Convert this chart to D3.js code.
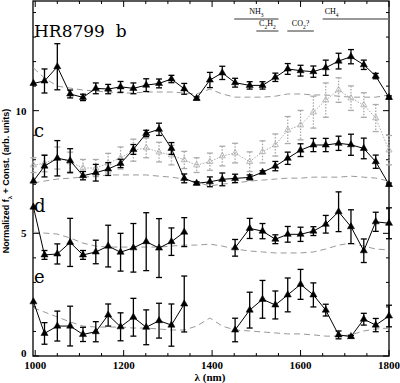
<!DOCTYPE html>
<html lang="en">
<head>
    <meta charset="UTF-8">
    <title>HR8799 bcde spectra</title>
    <style>
        body { margin: 0; background: #ffffff; }
        svg { display: block; background: #ffffff; }
        .tick-label { font-family: "Liberation Serif", serif; font-weight: bold; font-size: 11px; }
    </style>
    <script src="https://d3js.org/d3.v7.min.js"></script>
</head>
<body>
    <svg width="400" height="383"></svg>
    <script>
        // wavelength channels (nm)
        const wavelengths = [996, 1021, 1050, 1079, 1108, 1137, 1165, 1193, 1222, 1251, 1280, 1308, 1337, 1365,
            1395, 1423, 1452, 1485, 1514, 1543, 1571, 1600, 1629, 1657, 1686, 1714, 1743, 1770, 1800];

        // HR8799 b
        const bFlux = [11.11, 11.21, 11.79, 10.68, 10.54, 10.91, 10.88, 10.97, 10.91, 11.04, 11.11, 11.29, 10.89, 10.50,
            11.25, 11.54, 11.14, 11.03, 11.03, 11.36, 11.70, 11.63, 11.59, 11.75, 12.02, 12.20, 11.87, 11.41, 10.54];
        const bErr = [0, 0.49, 0.94, 0.16, 0.13, 0.22, 0.19, 0.22, 0.22, 0.26, 0.18, 0.15, 0.22, 0.06,
            0.31, 0.27, 0.18, 0.15, 0.15, 0.17, 0.22, 0.22, 0.23, 0.31, 0.32, 0.29, 0.19, 0.11, 0.06];
        const bModel = [11.74, 11.33, 11.00, 10.92, 10.84, 10.80, 10.76, 10.72, 10.72, 10.76, 10.76, 10.76, 10.72, 10.68,
            10.88, 10.68, 10.55, 10.55, 10.55, 10.59, 10.68, 10.68, 10.64, 10.64, 10.59, 10.55, 10.55, 10.55, 10.64];

        // HR8799 c
        const cFlux = [7.13, 7.74, 8.06, 7.96, 7.35, 7.47, 7.62, 7.85, 8.42, 9.07, 9.24, 8.46, 7.24, 7.04,
            7.10, 7.20, 7.24, 7.28, 7.49, 7.74, 8.06, 8.39, 8.60, 8.60, 8.67, 8.61, 8.46, 7.92, 6.99];
        const cErr = [0, 0.44, 0.72, 0.49, 0.17, 0.34, 0.26, 0.17, 0.20, 0.13, 0.25, 0.24, 0.18, 0.06,
            0.20, 0.26, 0.17, 0.10, 0.06, 0.19, 0.25, 0.26, 0.27, 0.27, 0.29, 0.43, 0.42, 0.27, 0.06];
        const cFlux2 = [7.78, 7.86, 8.07, 7.91, 7.66, 7.66, 7.86, 8.07, 8.39, 8.48, 8.31, 8.19, 7.99, 7.78,
            7.92, 8.15, 8.27, 7.92, 8.32, 8.60, 9.21, 9.41, 9.94, 10.43, 10.84, 10.51, 10.23, 9.70, 8.39];
        const cErr2 = [0.3, 0.35, 0.45, 0.4, 0.35, 0.35, 0.4, 0.45, 0.45, 0.4, 0.4, 0.4, 0.35, 0.3,
            0.35, 0.4, 0.4, 0.4, 0.45, 0.45, 0.55, 0.6, 0.65, 0.7, 0.5, 0.5, 0.5, 0.55, 0.6];
        const cModel = [7.05, 7.13, 7.21, 7.25, 7.29, 7.33, 7.38, 7.38, 7.38, 7.38, 7.33, 7.29, 7.21, 7.09,
            6.93, 7.01, 7.05, 7.13, 7.17, 7.21, 7.25, 7.25, 7.29, 7.29, 7.29, 7.33, 7.29, 7.25, 7.13];

        // HR8799 d (no data in the 1365-1423 nm band)
        const dFlux = [6.07, 4.12, 4.16, 4.63, 4.12, 4.24, 4.48, 4.23, 4.41, 4.66, 4.40, 4.66, 5.05, null,
            null, null, 4.41, 5.20, 5.09, 4.76, 4.96, 4.96, 5.09, 5.37, 5.88, 5.27, 4.29, 5.47, 5.41];
        const dErr = [0, 0.18, 0.41, 0.98, 0.18, 0.48, 0.85, 0.77, 0.99, 1.18, 1.20, 0.56, 0.59, null,
            null, null, 0.34, 0.41, 0.31, 0.18, 0.32, 0.29, 0.18, 0.36, 0.81, 0.69, 0.48, 0.39, 0.63];
        const dModel = [5.05, 5.01, 4.97, 4.81, 4.60, 4.48, 4.44, 4.44, 4.44, 4.44, 4.44, 4.48, 4.52, 4.52,
            4.56, 4.48, 4.36, 4.28, 4.24, 4.20, 4.20, 4.20, 4.24, 4.36, 4.52, 4.60, 4.48, 4.36, 4.32];

        // HR8799 e
        const eFlux = [2.21, 0.92, 1.22, 1.22, 0.88, 0.99, 1.67, 1.19, 1.58, 1.17, 1.44, 1.26, 2.12, null,
            null, null, 1.06, 1.87, 2.31, 2.08, 2.49, 2.92, 2.49, 1.87, 0.86, 0.79, 1.50, 1.26, 1.63];
        const eErr = [0, 0.44, 0.61, 0.81, 0.29, 0.41, 0.45, 0.57, 0.77, 0.71, 0.71, 0.86, 1.14, null,
            null, null, 0.48, 0.73, 0.77, 0.57, 0.69, 0.61, 0.49, 0.24, 0.16, 0.05, 0.24, 0.27, 0.44];
        const eModel = [1.96, 1.79, 1.59, 1.39, 1.22, 1.18, 1.18, 1.18, 1.14, 1.14, 1.10, 1.06, 1.06, 1.22,
            1.55, 1.22, 1.06, 1.02, 0.98, 0.94, 0.90, 0.90, 0.86, 0.81, 0.81, 0.86, 1.02, 1.10, 1.14];

        const xMajor = [1000, 1200, 1400, 1600, 1800];
        const xMinor = [1050, 1100, 1150, 1250, 1300, 1350, 1450, 1500, 1550, 1650, 1700, 1750];
        const yMajor = [0, 5, 10];
        const yMinor = [1, 2, 3, 4, 6, 7, 8, 9, 11, 12, 13, 14];

        // absorption bands marked at top
        const bandNames = ["NH3", "C2H2", "CO2?", "CH4"];
        const bandStart = [1450, 1500, 1570, 1650];
        const bandEnd = [1550, 1550, 1630, 1800];
        const bandRow = [0, 1, 1, 0];

        const panelLabels = ["HR8799  b", "c", "d", "e"];
        const panelLabelY = [13.0, 8.92, 5.87, 2.97];

        const svg = d3.select("svg");
        const m = { left: 33, right: 389, top: 1, bottom: 356 };

        const x = d3.scaleLinear().domain([995, 1800]).range([m.left, m.right]);
        const y = d3.scaleLinear().domain([0, 14.47]).range([m.bottom, m.top]);

        // frame
        svg.append("rect")
            .attr("x", m.left).attr("y", m.top)
            .attr("width", m.right - m.left).attr("height", m.bottom - m.top)
            .attr("fill", "none").attr("stroke", "#000").attr("stroke-width", 1.3);

        // ticks on all four sides, pointing in
        const tickG = svg.append("g").attr("stroke", "#000").attr("stroke-width", 1);
        xMajor.concat(xMinor).forEach(v => {
            const len = xMajor.includes(v) ? 6 : 3;
            tickG.append("line").attr("x1", x(v)).attr("x2", x(v)).attr("y1", m.bottom).attr("y2", m.bottom - len);
            tickG.append("line").attr("x1", x(v)).attr("x2", x(v)).attr("y1", m.top).attr("y2", m.top + len);
        });
        yMajor.concat(yMinor).forEach(v => {
            const len = yMajor.includes(v) ? 6 : 3;
            tickG.append("line").attr("x1", m.left).attr("x2", m.left + len).attr("y1", y(v)).attr("y2", y(v));
            tickG.append("line").attr("x1", m.right).attr("x2", m.right - len).attr("y1", y(v)).attr("y2", y(v));
        });

        svg.selectAll(".xlab").data(xMajor).enter().append("text")
            .attr("class", "tick-label")
            .attr("x", d => x(d)).attr("y", 369)
            .attr("text-anchor", "middle")
            .text(d => d);
        svg.selectAll(".ylab").data(yMajor).enter().append("text")
            .attr("class", "tick-label")
            .attr("x", 26.5).attr("y", d => Math.min(y(d) + 4, 356.5))
            .attr("text-anchor", "end")
            .text(d => d);

        // axis titles
        svg.append("text")
            .attr("x", 210).attr("y", 381)
            .attr("text-anchor", "middle")
            .style("font-family", "Liberation Serif, serif").style("font-weight", "bold").style("font-size", "11px")
            .text("\u03bb (nm)");

        const ytitle = svg.append("text")
            .attr("transform", "translate(9,181) rotate(-90)")
            .attr("text-anchor", "middle")
            .style("font-family", "Liberation Sans, sans-serif").style("font-weight", "bold").style("font-size", "9px");
        ytitle.append("tspan").text("Normalized f");
        ytitle.append("tspan").attr("baseline-shift", "sub").style("font-size", "6px").text("\u03bb");
        ytitle.append("tspan").text(" + Const. (arb. units)");

        // band markers
        const bandG = svg.append("g");
        bandNames.forEach((name, i) => {
            const ly = bandRow[i] === 0 ? 19 : 31;
            bandG.append("line")
                .attr("x1", x(bandStart[i])).attr("x2", x(bandEnd[i]))
                .attr("y1", ly).attr("y2", ly)
                .attr("stroke", "#777").attr("stroke-width", 1.5);
            const t = bandG.append("text")
                .attr("x", x(bandStart[i]) + (name === "CH4" ? 2 : (x(bandEnd[i]) - x(bandStart[i])) / 2))
                .attr("y", ly - 5)
                .attr("text-anchor", name === "CH4" ? "start" : "middle")
                .style("font-family", "Liberation Serif, serif").style("font-size", "8px");
            name.split(/(\d)/).forEach(part => {
                if (/\d/.test(part)) t.append("tspan").attr("baseline-shift", "sub").style("font-size", "5.5px").text(part);
                else if (part) t.append("tspan").text(part);
            });
        });

        // panel labels
        svg.selectAll(".plab").data(panelLabels).enter().append("text")
            .attr("x", 34).attr("y", (d, i) => y(panelLabelY[i]))
            .style("font-family", "DejaVu Serif, serif").style("font-size", d => d.length > 1 ? "17px" : "18px")
            .style("white-space", "pre")
            .text(d => d);

        const line = d3.line()
            .defined(d => d[1] != null)
            .x(d => x(d[0])).y(d => y(d[1]));

        function drawModel(vals) {
            svg.append("path")
                .datum(wavelengths.map((w, i) => [w, vals[i]]))
                .attr("d", line)
                .attr("fill", "none").attr("stroke", "#999")
                .attr("stroke-width", 1).attr("stroke-dasharray", "6,4");
        }

        function drawSeries(vals, errs, color, dash, filled) {
            const pts = wavelengths.map((w, i) => [w, vals[i], errs[i]]);
            svg.append("path")
                .datum(pts)
                .attr("d", line)
                .attr("fill", "none").attr("stroke", color)
                .attr("stroke-width", 1).attr("stroke-dasharray", dash);
            const ok = pts.filter(p => p[1] != null);
            const g = svg.append("g").attr("stroke", color).attr("stroke-width", 1.3);
            ok.filter(p => p[2] > 0).forEach(p => {
                const x0 = x(p[0]), y0 = y(p[1] + p[2]), y1 = y(p[1] - p[2]);
                g.append("line").attr("x1", x0).attr("x2", x0).attr("y1", y0).attr("y2", y1)
                    .attr("stroke-dasharray", dash);
                g.append("line").attr("x1", x0 - 3).attr("x2", x0 + 3).attr("y1", y0).attr("y2", y0);
                g.append("line").attr("x1", x0 - 3).attr("x2", x0 + 3).attr("y1", y1).attr("y2", y1);
            });
            svg.append("g").selectAll("path").data(ok).enter().append("path")
                .attr("d", d3.symbol(d3.symbolTriangle).size(filled ? 22 : 16))
                .attr("transform", d => `translate(${x(d[0])},${y(d[1])})`)
                .attr("fill", filled ? "#000" : "none")
                .attr("stroke", color).attr("stroke-width", filled ? 0.5 : 0.8);
        }

        drawModel(bModel);
        drawModel(cModel);
        drawModel(dModel);
        drawModel(eModel);

        drawSeries(cFlux2, cErr2, "#aaa", "1.5,1.5", false);
        drawSeries(bFlux, bErr, "#000", null, true);
        drawSeries(cFlux, cErr, "#000", null, true);
        drawSeries(dFlux, dErr, "#000", null, true);
        drawSeries(eFlux, eErr, "#000", null, true);
    </script>
</body>
</html>
